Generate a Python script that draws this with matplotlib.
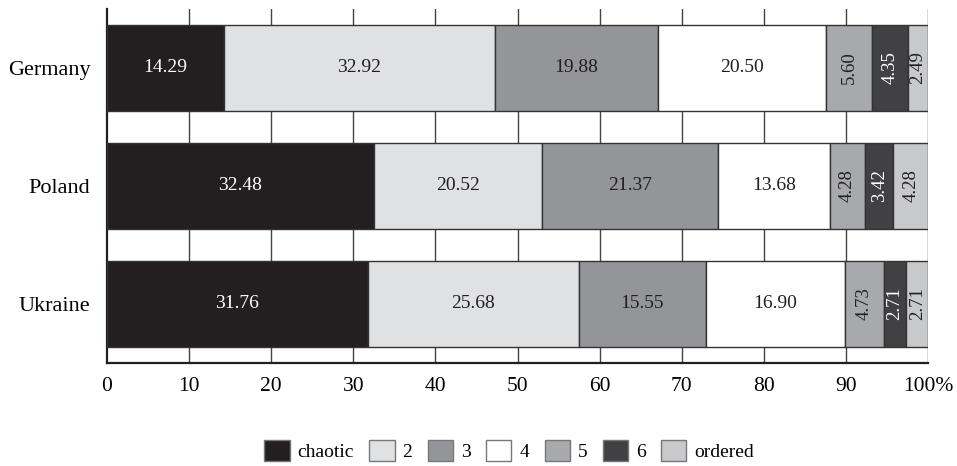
import matplotlib
matplotlib.use("Agg")
import matplotlib.pyplot as plt
import numpy as np

plt.rcParams['font.family'] = ['Liberation Serif', 'DejaVu Serif']

countries = ["Germany", "Poland", "Ukraine"]
categories = ["chaotic", "2", "3", "4", "5", "6", "ordered"]
values = {
    "chaotic": [14.29, 32.48, 31.76],
    "2": [32.92, 20.52, 25.68],
    "3": [19.88, 21.37, 15.55],
    "4": [20.50, 13.68, 16.90],
    "5": [5.60, 4.28, 4.73],
    "6": [4.35, 3.42, 2.71],
    "ordered": [2.49, 4.28, 2.71],
}
colors = ["#231f20", "#e0e1e3", "#939598", "#ffffff", "#a7a9ac", "#414042", "#c8c9cb"]
text_colors = ["white", "#231f20", "#231f20", "#231f20", "#231f20", "white", "#231f20"]
rotated = [False, False, False, False, True, True, True]
xticks = [0, 10, 20, 30, 40, 50, 60, 70, 80, 90, 100]
xticklabels = ["0", "10", "20", "30", "40", "50", "60", "70", "80", "90", "100%"]

fig = plt.figure(figsize=(9.57, 4.66), dpi=100)
ax = fig.add_axes([107/957, 1-363/466, (928-107)/957, (363-9)/466])

y = np.arange(len(countries))
left = np.zeros(len(countries))
handles = []
for i, cat in enumerate(categories):
    v = np.array(values[cat])
    b = ax.barh(y, v, left=left, height=0.73, color=colors[i], edgecolor="#333333",
                linewidth=1.0, zorder=3, label=cat)
    handles.append(b)
    for j in range(len(countries)):
        ax.text(left[j] + v[j]/2, y[j], f"{v[j]:.2f}", ha="center", va="center",
                color=text_colors[i], fontsize=14 if not rotated[i] else 13.5,
                rotation=90 if rotated[i] else 0, zorder=4)
    left += v

ax.set_xlim(0, 100)
ax.set_ylim(2.5, -0.5)
ax.set_yticks(y)
ax.set_yticklabels(countries, fontsize=16)
ax.set_xticks(xticks)
ax.set_xticklabels(xticklabels, fontsize=15.5)
ax.tick_params(axis="both", length=0, pad=10)
ax.tick_params(axis="y", pad=12)
for xv in xticks[1:]:
    ax.axvline(xv, color="#444444", linewidth=1.0, zorder=1)
for s in ["top", "right"]:
    ax.spines[s].set_visible(False)
ax.spines["left"].set_linewidth(1.6)
ax.spines["bottom"].set_linewidth(1.6)
ax.spines["left"].set_color("#231f20")
ax.spines["bottom"].set_color("#231f20")

leg = fig.legend(handles=handles, labels=categories, loc="center", bbox_to_anchor=(0.532, 0.034),
                 ncol=7, frameon=False, fontsize=14, handlelength=1.3, handleheight=1.3,
                 handletextpad=0.4, columnspacing=0.8)
for h in leg.legend_handles:
    h.set_edgecolor("#777777")

fig.savefig("out.png", dpi=100)
